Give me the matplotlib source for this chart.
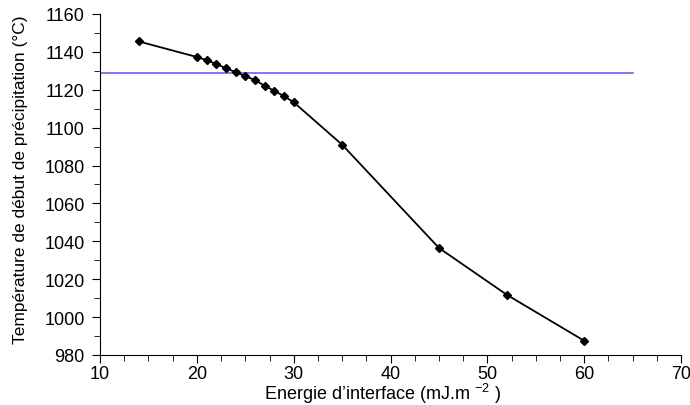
import numpy as np
import matplotlib.pyplot as plt
from matplotlib.ticker import MultipleLocator

plt.rcParams['font.family'] = ['Liberation Sans', 'DejaVu Sans']
plt.rcParams['mathtext.fontset'] = 'custom'
plt.rcParams['mathtext.rm'] = 'Liberation Sans'
plt.rcParams['mathtext.it'] = 'Liberation Sans'

# Energie d'interface (mJ/m2) vs temperature de debut de precipitation (C)
energie = [14, 20, 21, 22, 23, 24, 25, 26, 27, 28, 29, 30, 35, 45, 52, 60]
temperature = [1145.5, 1137.3, 1135.6, 1133.6, 1131.4, 1129.3, 1127.2, 1125.1,
               1122.1, 1119.4, 1116.6, 1113.4, 1091, 1036.5, 1011.8, 987.5]

# horizontal reference line
ref_x = [10, 65]
ref_T = 1129

fig = plt.figure(figsize=(6.9, 4.06), dpi=100)
ax = fig.add_axes([0.145, 0.1232, 0.842, 0.8399])

ax.plot(ref_x, [ref_T, ref_T], color='#6666ee', lw=1.2)
ax.plot(energie, temperature, color='black', lw=1.3, marker='D', markersize=4)

ax.set_xlim(10, 70)
ax.set_ylim(980, 1160)
ax.xaxis.set_major_locator(MultipleLocator(10))
ax.xaxis.set_minor_locator(MultipleLocator(2.5))
ax.yaxis.set_major_locator(MultipleLocator(20))
ax.yaxis.set_minor_locator(MultipleLocator(10))

for s in ['top', 'right']:
    ax.spines[s].set_visible(False)
ax.tick_params(which='major', direction='out', length=6, labelsize=13)
ax.tick_params(which='minor', direction='out', length=4)
ax.tick_params(axis='x', which='major', pad=1)
ax.tick_params(axis='y', which='major', pad=5)

fig.text(0.555, 0.016, "Energie d’interface (mJ.m $^{-2}$ )", fontsize=13,
         ha='center', va='baseline')
fig.text(0.029, 0.557, 'Température de début de précipitation (°C)', fontsize=12.5,
         ha='center', va='center', rotation=90)

plt.savefig('out.png', dpi=100)
